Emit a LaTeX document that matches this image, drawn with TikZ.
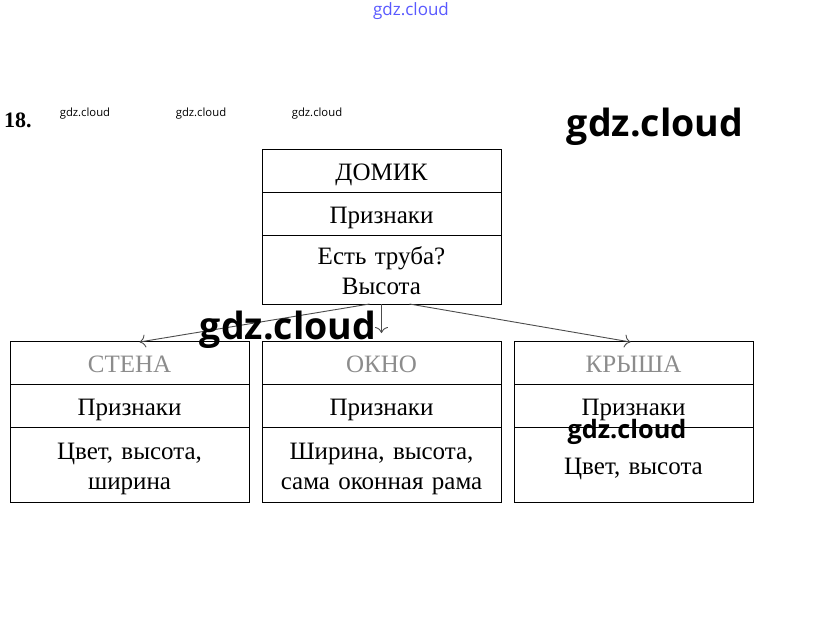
\documentclass[tikz,border=0pt]{standalone}
\usepackage{fontspec}
\setmainfont{Liberation Serif}
\newfontfamily\wmfont{Open Sans}
\usetikzlibrary{arrows, arrows.meta, positioning}

\begin{document}
\begin{tikzpicture}[
    x=1pt, y=-1pt,
    every node/.style={font=\fontsize{25}{30}\selectfont},
    cell/.style={rectangle, draw, text width=239pt, align=center, minimum height=43pt, inner sep=0pt, outer sep=0pt, line width=0.8pt,
        execute at begin node={\rule{0pt}{25pt}}, execute at end node={\rule[-6pt]{0pt}{0pt}}},
    valcell/.style={cell, minimum height=75pt},
    faded/.style={text=black!45},
    wm/.style={font=\wmfont\bfseries\fontsize{37.5}{40}\selectfont, inner sep=0pt},
    smallwm/.style={wm, font=\wmfont\fontsize{11.3}{13}\selectfont},
    arrow/.style={-{To[length=6pt, width=13pt]}, black!70, line width=0.9pt}
]
\fill[white] (0,0) rectangle (823,622);
\useasboundingbox (0,0) rectangle (823,622);

% Number of the task
\node[font=\bfseries\fontsize{22}{24}\selectfont, anchor=west, inner sep=0pt] (num) at (4,120) {18.};

% Class
\node[cell, anchor=north west] (domik) at (262,149) {ДОМИК};
\node[cell, below=0pt of domik] (domikpr) {Признаки};
\node[cell, below=0pt of domikpr, minimum height=69pt] (domikval) {Есть труба?\\Высота};

% Subclasses
\node[cell, faded, below=37pt of domikval] (okno) {ОКНО};
\node[cell, below=0pt of okno] (oknopr) {Признаки};
\node[valcell, below=0pt of oknopr] (oknoval) {Ширина, высота,\\сама оконная рама};

\node[cell, faded, left=13pt of okno] (stena) {СТЕНА};
\node[cell, below=0pt of stena] (stenapr) {Признаки};
\node[valcell, below=0pt of stenapr] (stenaval) {Цвет, высота,\\ширина};

\node[cell, faded, right=13pt of okno] (krysha) {КРЫША};
\node[cell, below=0pt of krysha] (kryshapr) {Признаки};
\node[valcell, below=0pt of kryshapr] (kryshaval) {Цвет, высота};

% Arrows
\draw[arrow] ([xshift=-12pt]domikval.south) -- ([xshift=10pt,yshift=-1pt]stena.north);
\draw[arrow, shorten >=8pt] (domikval.south) -- (okno.north);
\draw[arrow] ([xshift=28pt]domikval.south) -- ([xshift=-3pt,yshift=-1pt]krysha.north);

% Watermarks
\node[wm] (wm1) at (655,127) {gdz.cloud};
\node[wm] (wm2) at (288,330) {gdz.cloud};
\node[wm, font=\wmfont\bfseries\fontsize{25.3}{28}\selectfont] (wm3) at (627,432) {gdz.cloud};
\node[smallwm] (wm4) at (85,114) {gdz.cloud};
\node[smallwm] (wm5) at (201,114) {gdz.cloud};
\node[smallwm] (wm6) at (317,114) {gdz.cloud};
\node[wm, text=blue!65, font=\wmfont\fontsize{17}{19}\selectfont] (wm7) at (411,11) {gdz.cloud};

\end{tikzpicture}
\end{document}
